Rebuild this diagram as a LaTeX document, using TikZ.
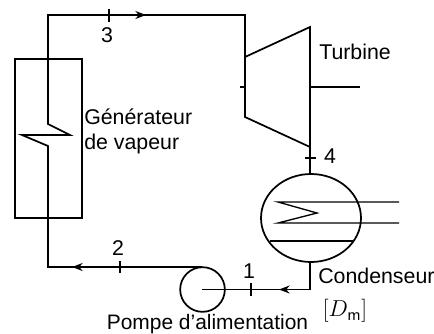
\documentclass[tikz,border=0pt]{standalone}
\usepackage{fontspec}
\setmainfont{Liberation Sans}
\usepackage{amsmath}
\usetikzlibrary{arrows.meta,shapes.geometric}
\tikzset{
  pipe/.style={line width=1.3pt,line join=miter},
  thin pipe/.style={line width=1pt},
  tick mark/.style={line width=0.8pt},
  flow/.style={-{Stealth[length=8pt,width=6pt]},line width=1pt},
  lbl/.style={font=\fontsize{16pt}{18pt}\selectfont,inner sep=0pt},
  equip/.style={draw,line width=1.3pt,inner sep=0pt,fill=none}
}
\begin{document}
\begin{tikzpicture}[x=0.75pt,y=-0.75pt]
\useasboundingbox (0,0) rectangle (434,333);
% equipment
\node[equip,rectangle,minimum width=50.25pt,minimum height=119.25pt] (gen) at (48.5,138.5) {};
\node[equip,circle,minimum size=33.5pt] (pump) at (202.5,289.5) {};
\node[equip,ellipse,minimum width=75pt,minimum height=66pt] (cond) at (311,218) {};
% named points
\coordinate (c3) at (48,15);
\coordinate (t3) at (245,15);
\coordinate (ta) at (245,57);
\coordinate (tb) at (310,27);
\coordinate (tc) at (310,147);
\coordinate (td) at (245,117);
\coordinate (z1) at (48,124);
\coordinate (z2) at (70,135);
\coordinate (z3) at (22,135);
\coordinate (z4) at (48,146);
\coordinate (c2) at (48,267);
\coordinate (ptop) at (202,267);
\coordinate (pc) at (202,289.5);
\coordinate (c1) at (310,289.5);
\coordinate (shaft) at (360,87);
\coordinate (shaft0) at (310,87);
% feed loop
\draw[pipe] (ptop) -- (c2) -- (z4) -- (z3) -- (z2) -- (z1) -- (c3) -- (t3) -- (td) -- (tc) -- (tb) -- (ta);
\draw[pipe] (tb) -- (tc) -- (cond.north -| tc);
\draw[thin pipe] (shaft0) -- (shaft);
\draw[pipe] (cond.south -| c1) -- (c1) -- (pc);
% arrows
\coordinate (a3s) at (135,15); \coordinate (a3e) at (146,15);
\draw[flow] (a3s) -- (a3e);
\coordinate (a2s) at (84,267); \coordinate (a2e) at (72,267);
\draw[flow] (a2s) -- (a2e);
\coordinate (a1s) at (292,289.5); \coordinate (a1e) at (279,289.5);
\draw[flow] (a1s) -- (a1e);
% ticks
\coordinate (k3a) at (109,9); \coordinate (k3b) at (109,22);
\draw[tick mark] (k3a) -- (k3b);
\coordinate (k2a) at (120,261); \coordinate (k2b) at (120,273);
\draw[tick mark] (k2a) -- (k2b);
\coordinate (k1a) at (251,283); \coordinate (k1b) at (251,296);
\draw[tick mark] (k1a) -- (k1b);
\coordinate (k4a) at (305,158); \coordinate (k4b) at (316,158);
\draw[tick mark] (k4a) -- (k4b);
\coordinate (k5a) at (240,87); \coordinate (k5b) at (245,87);
\draw[tick mark] (k5a) -- (k5b);
% condenser internals
\coordinate (w1) at (399,202); \coordinate (w2) at (278,202);
\coordinate (w3) at (317,213); \coordinate (w4) at (278,223); \coordinate (w5) at (399,223);
\draw[thin pipe] (w1) -- (w2) -- (w3) -- (w4) -- (w5);
\coordinate (b1) at (270,241); \coordinate (b2) at (354,241);
\draw[pipe] (b1) -- (b2);
% labels
\node[lbl,anchor=base west] (tl) at (319,59) {Turbine};
\node[lbl,anchor=base west] (gl1) at (84,124) {Générateur};
\node[lbl,anchor=base west] (gl2) at (84,149) {de vapeur};
\node[lbl,anchor=base west] (cl) at (318,283) {Condenseur};
\node[lbl,anchor=base,font=\fontsize{15.7pt}{18pt}\selectfont] (pl) at (207.5,329.5) {Pompe d’alimentation};
\node[lbl] (n3) at (107,35) {3};
\node[lbl] (n2) at (118,248) {2};
\node[lbl] (n1) at (249,271) {1};
\node[lbl] (n4) at (330,156) {4};
\node[inner sep=0pt,font=\fontsize{18.5pt}{22pt}\selectfont] (dm) at (345,311) {$[D_{\mathsf{m}}]$};
\end{tikzpicture}
\end{document}
